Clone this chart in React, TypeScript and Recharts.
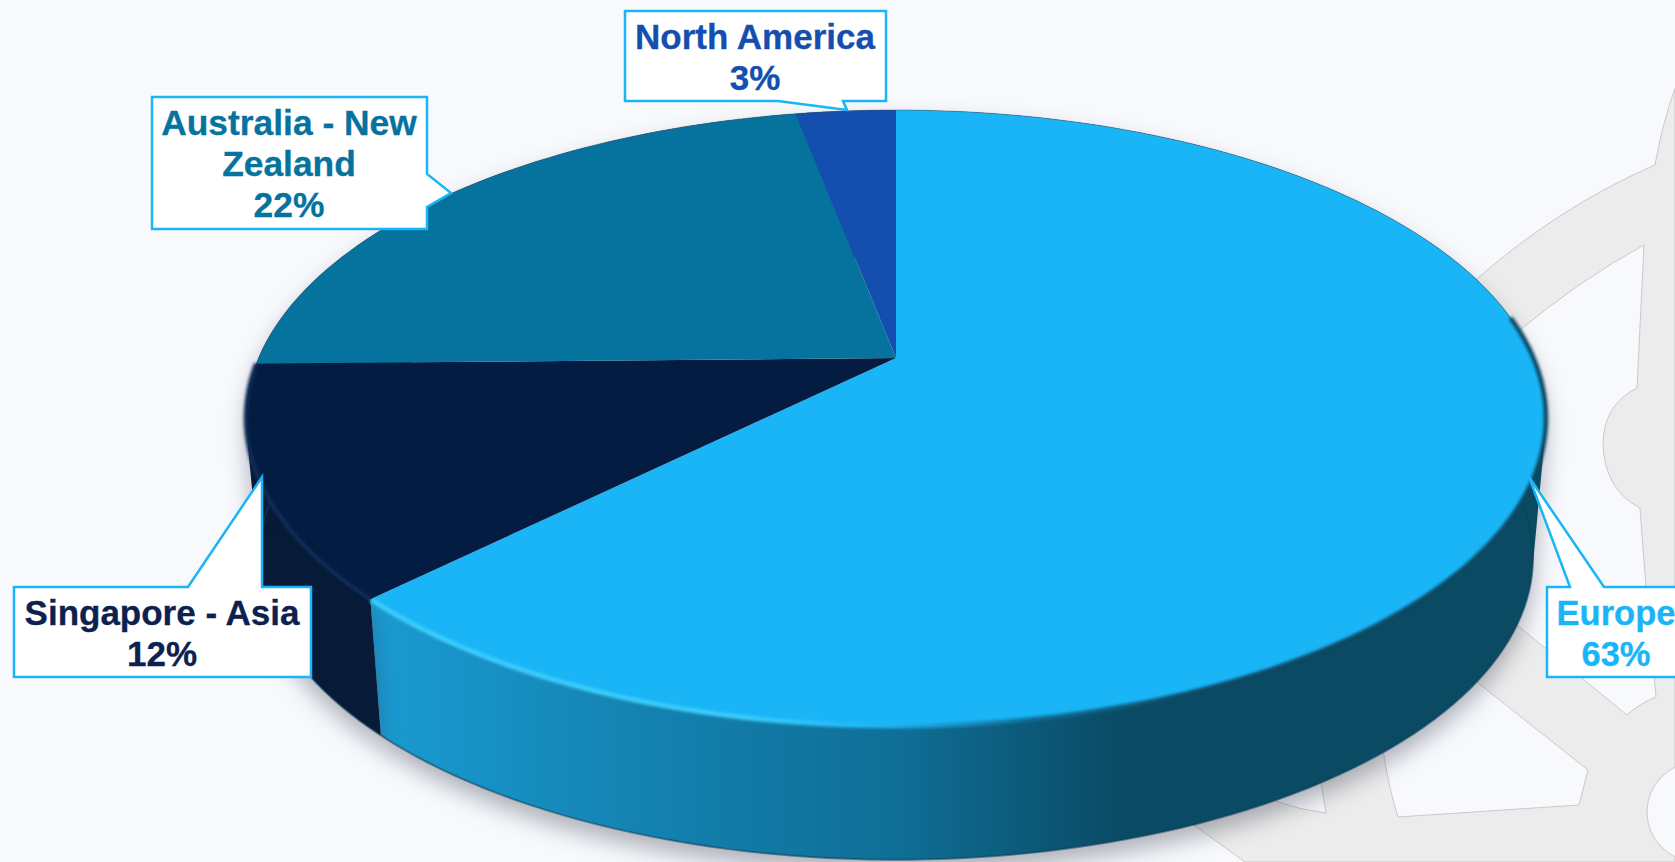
import React from "react";
import { PieChart, Pie } from "recharts";

const categories = ["Europe", "Singapore - Asia", "Australia - New Zealand", "North America"];
const shares = [62.6, 12.1, 22.3, 3.0];
const labelLines = [["Europe"], ["Singapore - Asia"], ["Australia - New", "Zealand"], ["North America"]];
const faceColors = ["#1ab5f7", "#041c42", "#06739f", "#144fb0"];
const wallFills = ["url(#wallEurope)", "#071a38", "#06577a", "#0f3b85"];
const rimStrokes = ["url(#rimEurope)", "#0b2a55", "none", "none"];
const textColors = ["#1ab5f7", "#0d2150", "#06739f", "#144fb0"];

const rows = categories.map((name, i) => ({ name, value: shares[i], index: i }));

// Callout boxes: [left, top, right, bottom], pointer base points and tip, text placement
const callouts = [
  { box: [1547, 587, 1690, 677], from: [1604, 587], tip: [1529, 477], to: [1570, 587], side: "top", tx: 1616, base: 625, size: 34.5 },
  { box: [14, 587, 311, 677], from: [188, 587], tip: [262, 477], to: [262, 587], side: "top", tx: 162, base: 625, size: 35 },
  { box: [152, 97, 427, 229], from: [427, 174], tip: [451, 193], to: [427, 207], side: "right", tx: 289, base: 135, size: 35.4 },
  { box: [625, 11, 886, 101], from: [843, 101], tip: [847, 110], to: [778, 101], side: "bottom", tx: 755, base: 49, size: 35 },
];

const CX = 896;
const CY = 358;
const RADIUS = 637.5;
const SQUASH = 0.4648;
const TILT = 0.195;
const DEPTH = 141;
const BASE_SCALE = 0.98;
const RIM_FROM_ANGLE = 8;

function project(angle: number, cx: number, cy: number, r: number, scale = 1, dy = 0) {
  const t = ((90 - angle) * Math.PI) / 180;
  const w = 1 + TILT * Math.cos(t);
  return [cx + (scale * r * Math.sin(t)) / w, cy + dy - (scale * r * SQUASH * Math.cos(t)) / w];
}

function arc(a0: number, a1: number, cx: number, cy: number, r: number, scale = 1, dy = 0) {
  const n = Math.max(2, Math.ceil(Math.abs(a1 - a0) / 1.5));
  const out: number[][] = [];
  for (let i = 0; i <= n; i++) out.push(project(a0 + ((a1 - a0) * i) / n, cx, cy, r, scale, dy));
  return out;
}

const toPath = (pts: number[][]) =>
  pts.map((p, i) => `${i ? "L" : "M"}${p[0].toFixed(2)} ${p[1].toFixed(2)}`).join(" ");

function quadPath(q: number[][]) {
  let area = 0;
  for (let i = 0; i < q.length; i++) {
    const a = q[i];
    const b = q[(i + 1) % q.length];
    area += a[0] * b[1] - b[0] * a[1];
  }
  const pts = area < 0 ? [...q].reverse() : q;
  return `${toPath(pts)} Z`;
}

function FaceShape(props: any) {
  const { cx, cy, outerRadius, startAngle, endAngle, payload } = props;
  const i = payload?.index ?? props.index ?? 0;
  const pts = arc(startAngle, endAngle, cx, cy, outerRadius);
  const rim = arc(Math.min(startAngle, RIM_FROM_ANGLE), endAngle, cx, cy, outerRadius);
  return (
    <g>
      <path d={`M${cx} ${cy} ${toPath(pts).replace("M", "L")} Z`} fill={faceColors[i]} />
      <path d={toPath(pts)} fill="none" stroke="#3b4a55" strokeOpacity={0.45} strokeWidth={1} />
      {rimStrokes[i] !== "none" && (
        <path d={toPath(rim)} fill="none" stroke={rimStrokes[i]} strokeWidth={4.5} filter="url(#soft)" />
      )}
    </g>
  );
}

function WallShape(props: any) {
  const { cx, cy, outerRadius, startAngle, endAngle, payload } = props;
  const i = payload?.index ?? props.index ?? 0;
  const top = arc(startAngle, endAngle, cx, cy, outerRadius);
  const bottom = arc(startAngle, endAngle, cx, cy, outerRadius, BASE_SCALE, DEPTH);
  const strips = top
    .slice(0, -1)
    .map((p, k) => quadPath([p, top[k + 1], bottom[k + 1], bottom[k]]))
    .join(" ");
  return (
    <g style={{ filter: "drop-shadow(0px 12px 11px rgba(45,50,70,0.36))" }}>
      <path d={strips} fill={wallFills[i]} fillRule="nonzero" />
      <path d={toPath(bottom)} fill="none" stroke="#0a3f5a" strokeOpacity={0.55} strokeWidth={2} />
    </g>
  );
}

function CalloutLabel(props: any) {
  const i = props.payload?.index ?? props.index ?? 0;
  const c = callouts[i];
  const [l, t, r, b] = c.box;
  let d = "";
  if (c.side === "top") {
    const [a, z] = c.from[0] < c.to[0] ? [c.from, c.to] : [c.to, c.from];
    d = `M${l} ${t} L${a[0]} ${t} L${c.tip[0]} ${c.tip[1]} L${z[0]} ${t} L${r} ${t} L${r} ${b} L${l} ${b} Z`;
  } else if (c.side === "right") {
    d = `M${l} ${t} L${r} ${t} L${r} ${c.from[1]} L${c.tip[0]} ${c.tip[1]} L${r} ${c.to[1]} L${r} ${b} L${l} ${b} Z`;
  } else {
    d = `M${l} ${t} L${r} ${t} L${r} ${b} L${c.from[0]} ${b} L${c.tip[0]} ${c.tip[1]} L${c.to[0]} ${b} L${l} ${b} Z`;
  }
  const pct = `${Math.round(shares[i])}%`;
  const lines = [...labelLines[i], pct];
  return (
    <g>
      <path d={d} fill="#ffffff" stroke="#1ab5f7" strokeWidth={2.5} />
      {lines.map((line, k) => (
        <text
          key={k}
          x={c.tx}
          y={c.base + k * 41}
          textAnchor="middle"
          fontFamily="'Liberation Sans', Arial, sans-serif"
          fontWeight={700}
          fontSize={c.size}
          fill={textColors[i]}
          stroke={textColors[i]}
          strokeWidth={0.3}
        >
          {line}
        </text>
      ))}
    </g>
  );
}

function Backdrop() {
  const win = { fill: "#f8f9fd", stroke: "#c9c9c9", strokeWidth: 1 };
  return (
    <svg width={1675} height={862} style={{ position: "absolute", left: 0, top: 0 }}>
      <defs>
        <linearGradient id="wallEurope" gradientUnits="userSpaceOnUse" x1={373} y1={0} x2={1546} y2={0}>
          <stop offset="0" stopColor="#1a9bd2" />
          <stop offset="0.25" stopColor="#1380ae" />
          <stop offset="0.45" stopColor="#0f6e96" />
          <stop offset="0.64" stopColor="#0a4a64" />
          <stop offset="1" stopColor="#0a4a63" />
        </linearGradient>
        <linearGradient id="rimEurope" gradientUnits="userSpaceOnUse" x1={373} y1={0} x2={1546} y2={0}>
          <stop offset="0" stopColor="#3cd0ff" />
          <stop offset="0.32" stopColor="#3cd0ff" />
          <stop offset="0.44" stopColor="#1ab5f7" />
          <stop offset="0.56" stopColor="#0f6e96" />
          <stop offset="0.7" stopColor="#0a4a63" />
          <stop offset="1" stopColor="#0a4a63" />
        </linearGradient>
        <filter id="soft" x="-5%" y="-5%" width="110%" height="110%">
          <feGaussianBlur stdDeviation="1.6" />
        </filter>
      </defs>
      <path
        d="M1100 700 L1300 400 L1478 278 Q1560 206 1655 165 Q1662 125 1675 88 L1675 862 L1245 862 L1194 825 Z"
        fill="#ececec"
        stroke="#c9c9c9"
      />
      <path d="M1450 400 L1520 330 Q1580 280 1644 245 L1637 388 Q1603 405 1603 445 Q1605 490 1640 508 L1646 588 L1656 697 Q1640 703 1627 715 L1512 621 L1420 560 Z" {...win} />
      <path d="M1350 700 L1473 679 L1588 770 L1579 805 L1398 817 Q1388 785 1383 750 Z" {...win} />
      <path d="M1260 760 L1321 783 L1326 813 Q1300 810 1275 801 Z" {...win} />
      <circle cx={1697} cy={812} r={50} {...win} />
    </svg>
  );
}

export default function App() {
  return (
    <div style={{ position: "fixed", left: 0, top: 0, width: 1675, height: 862, overflow: "hidden", background: "#f8f9fd" }}>
      <Backdrop />
      <div style={{ position: "absolute", left: 0, top: 0 }}>
        <PieChart width={1675} height={862} margin={{ top: 0, right: 0, bottom: 0, left: 0 }}>
          <Pie
            data={rows}
            dataKey="value"
            nameKey="name"
            cx={CX}
            cy={CY}
            innerRadius={0}
            outerRadius={RADIUS}
            startAngle={90}
            endAngle={-270}
            stroke="none"
            isAnimationActive={false}
            shape={WallShape}
            label={false}
            labelLine={false}
          />
          <Pie
            data={rows}
            dataKey="value"
            nameKey="name"
            cx={CX}
            cy={CY}
            innerRadius={0}
            outerRadius={RADIUS}
            startAngle={90}
            endAngle={-270}
            stroke="none"
            isAnimationActive={false}
            shape={FaceShape}
            label={CalloutLabel}
            labelLine={false}
          />
        </PieChart>
      </div>
    </div>
  );
}
